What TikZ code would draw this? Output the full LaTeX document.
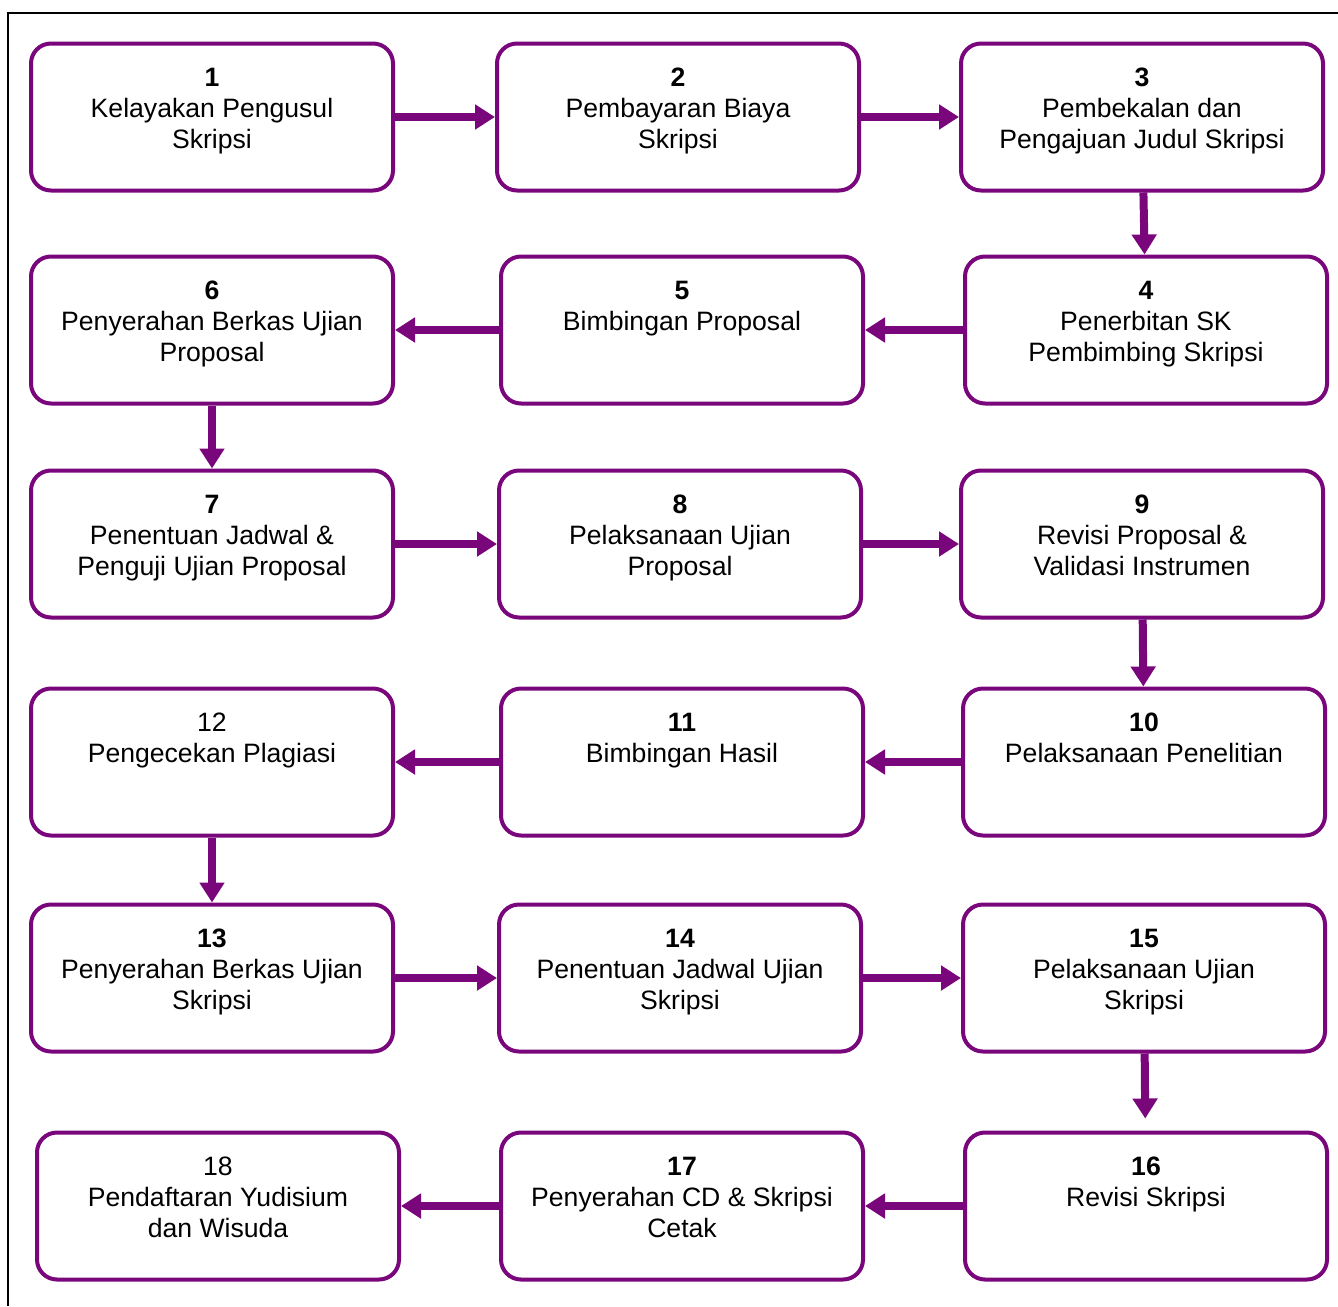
\documentclass[tikz,border=0pt]{standalone}
\usepackage{fontspec}
\setmainfont{Liberation Sans}
\usetikzlibrary{arrows.meta}
\definecolor{flowpurple}{RGB}{122,6,124}
\newcommand{\steptext}[2]{\parbox[c][73pt][t]{178pt}{\centering\rule{0pt}{21pt}#1\\#2}}

\begin{document}
\begin{tikzpicture}[x=0.5pt,y=-0.5pt,
  stepbox/.style={draw=flowpurple, line width=2pt, rounded corners=10pt,
    minimum width=181pt, minimum height=73.5pt, inner sep=0pt,
    font=\fontsize{13.3pt}{15.5pt}\selectfont},
  flow/.style={draw=flowpurple, line width=4pt,
    -{Triangle[width=12pt,length=10pt]}}]
  \useasboundingbox (0,0) rectangle (1338,1306);
  \draw[line width=1pt] (8,1306) |- (1338,13); % frame

  % row 1
  \node[stepbox] (b1) at (212,117) {\steptext{\textbf{1}}{Kelayakan Pengusul\\Skripsi}};
  \node[stepbox] (b2) at (678,117) {\steptext{\textbf{2}}{Pembayaran Biaya\\Skripsi}};
  \node[stepbox] (b3) at (1142,117) {\steptext{\textbf{3}}{Pembekalan dan\\Pengajuan Judul Skripsi}};
  % row 2
  \node[stepbox] (b4) at (1146,330) {\steptext{\textbf{4}}{Penerbitan SK\\Pembimbing Skripsi}};
  \node[stepbox] (b5) at (682,330) {\steptext{\textbf{5}}{Bimbingan Proposal}};
  \node[stepbox] (b6) at (212,330) {\steptext{\textbf{6}}{Penyerahan Berkas Ujian\\Proposal}};
  % row 3
  \node[stepbox] (b7) at (212,544) {\steptext{\textbf{7}}{Penentuan Jadwal \&\\Penguji Ujian Proposal}};
  \node[stepbox] (b8) at (680,544) {\steptext{\textbf{8}}{Pelaksanaan Ujian\\Proposal}};
  \node[stepbox] (b9) at (1142,544) {\steptext{\textbf{9}}{Revisi Proposal \&\\Validasi Instrumen}};
  % row 4
  \node[stepbox] (b10) at (1144,762) {\steptext{\textbf{10}}{Pelaksanaan Penelitian}};
  \node[stepbox] (b11) at (682,762) {\steptext{\textbf{11}}{Bimbingan Hasil}};
  \node[stepbox] (b12) at (212,762) {\steptext{12}{Pengecekan Plagiasi}};
  % row 5
  \node[stepbox] (b13) at (212,978) {\steptext{\textbf{13}}{Penyerahan Berkas Ujian\\Skripsi}};
  \node[stepbox] (b14) at (680,978) {\steptext{\textbf{14}}{Penentuan Jadwal Ujian\\Skripsi}};
  \node[stepbox] (b15) at (1144,978) {\steptext{\textbf{15}}{Pelaksanaan Ujian\\Skripsi}};
  % row 6
  \node[stepbox] (b16) at (1146,1206) {\steptext{\textbf{16}}{Revisi Skripsi}};
  \node[stepbox] (b17) at (682,1206) {\steptext{\textbf{17}}{Penyerahan CD \& Skripsi\\Cetak}};
  \node[stepbox] (b18) at (218,1206) {\steptext{18}{Pendaftaran Yudisium\\dan Wisuda}};

  % arrows
  \draw[flow] (b1) -- (b2);
  \draw[flow] (b2) -- (b3);
  \draw[flow] (b3) -- (b4);
  \draw[flow] (b4) -- (b5);
  \draw[flow] (b5) -- (b6);
  \draw[flow] (b6) -- (b7);
  \draw[flow] (b7) -- (b8);
  \draw[flow] (b8) -- (b9);
  \draw[flow] (b9) -- (b10);
  \draw[flow] (b10) -- (b11);
  \draw[flow] (b11) -- (b12);
  \draw[flow] (b12) -- (b13);
  \draw[flow] (b13) -- (b14);
  \draw[flow] (b14) -- (b15);
  \draw[flow, shorten >=6pt] (b15) -- (b16);
  \draw[flow] (b16) -- (b17);
  \draw[flow] (b17) -- (b18);
\end{tikzpicture}
\end{document}
